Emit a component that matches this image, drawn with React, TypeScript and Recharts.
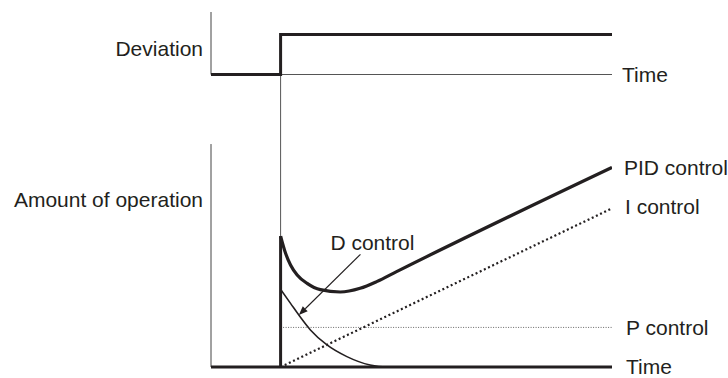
import React from 'react';
import { LineChart, Line, XAxis, YAxis, ReferenceLine, ReferenceDot } from 'recharts';

// Time axis: step of the deviation happens at t = 0
const T_MIN = -2.1;
const T_MAX = 10;

// Deviation (top panel)
const DEV_TIME = [-2.1, 0, 0, 10];
const DEV_VALUE = [0, 0, 1, 1];

// Amount of operation (bottom panel)
const PID_TIME = [0, 0.15, 0.3, 0.5, 0.8, 1.2, 1.8, 2.4, 2.9, 3.5, 10];
const PID_VALUE = [0.784, 0.681, 0.611, 0.551, 0.501, 0.463, 0.449, 0.471, 0.511, 0.571, 1.195];
const PID_STEP_TIME = [0, 0];
const PID_STEP_VALUE = [0, 0.784];
const I_TIME = [0, 10];
const I_VALUE = [0, 0.95];
const P_TIME = [0, 10];
const P_VALUE = [0.237, 0.237];
const D_TIME = [0, 0.3, 0.55, 0.9, 1.4, 2.0, 2.7, 3.2, 10];
const D_VALUE = [0.465, 0.381, 0.311, 0.222, 0.132, 0.062, 0.012, 0, 0];

// axis extents
const DEV_DOMAIN = [-7.3125, 1.5625];
const OP_DOMAIN = [0, 2.1257];
const OP_AXIS_TOP = 1.335;

// labels
const DEVIATION_LABEL = 'Deviation';
const OPERATION_LABEL = 'Amount of operation';
const TIME_LABEL = 'Time';
const PID_LABEL = 'PID control';
const I_LABEL = 'I control';
const P_LABEL = 'P control';
const D_LABEL = 'D control';

// D control label & arrow positions (in data units)
const D_LABEL_POS = { t: 2.77, v: 0.745 };
const D_ARROW = [{ t: 2.41, v: 0.675 }, { t: 0.55, v: 0.311 }];

const zip = (ts: number[], vs: number[]) => ts.map((t, i) => ({ t, v: vs[i] }));

const devData = zip(DEV_TIME, DEV_VALUE);
const pidData = zip(PID_TIME, PID_VALUE);
const pidStepData = zip(PID_STEP_TIME, PID_STEP_VALUE);
const iData = zip(I_TIME, I_VALUE);
const pData = zip(P_TIME, P_VALUE);
const dData = zip(D_TIME, D_VALUE);

const INK = '#231f20';
const FONT = '"Liberation Sans", Arial, Helvetica, sans-serif';
const FS = 21;

const labelStyle = (value: string, position: any, offset = 10) => ({
  value,
  position,
  offset,
  fill: INK,
  fontSize: FS,
  fontFamily: FONT,
});

const Arrow = (props: any) => {
  const { x1, y1, x2, y2 } = props;
  if ([x1, y1, x2, y2].some((n) => n == null || isNaN(n))) return null;
  const ang = Math.atan2(y2 - y1, x2 - x1);
  const len = 9;
  const w = 3.5;
  const bx = x2 - len * Math.cos(ang);
  const by = y2 - len * Math.sin(ang);
  const px = -Math.sin(ang) * w;
  const py = Math.cos(ang) * w;
  return (
    <g>
      <line x1={x1} y1={y1} x2={bx} y2={by} stroke={INK} strokeWidth={1.1} />
      <path d={`M${x2},${y2} L${bx + px},${by + py} L${bx - px},${by - py} Z`} fill={INK} />
    </g>
  );
};

const last = (a: number[]) => a[a.length - 1];

export default function App() {
  return (
    <div style={{ position: 'absolute', left: 0, top: 0, width: 728, height: 378, background: '#fff' }}>
      <LineChart
        width={728}
        height={378}
        margin={{ top: 12, right: 116, bottom: 11, left: 211 }}
        style={{ fontFamily: FONT }}
      >
        <XAxis type="number" dataKey="t" domain={[T_MIN, T_MAX]} hide allowDataOverflow />
        <YAxis yAxisId="dev" type="number" domain={DEV_DOMAIN} hide allowDataOverflow />
        <YAxis yAxisId="op" type="number" domain={OP_DOMAIN} hide allowDataOverflow />

        {/* top panel axes */}
        <ReferenceLine
          yAxisId="dev"
          segment={[{ x: T_MIN, y: 0 }, { x: T_MIN, y: DEV_DOMAIN[1] }]}
          stroke="#444"
          strokeWidth={1}
        />
        <ReferenceLine
          yAxisId="dev"
          y={0}
          stroke="#555"
          strokeWidth={1}
          label={labelStyle(TIME_LABEL, 'right', 10)}
        />
        {/* vertical guide at t = 0 */}
        <ReferenceLine
          yAxisId="dev"
          segment={[{ x: 0, y: 0 }, { x: 0, y: DEV_DOMAIN[0] }]}
          stroke="#555"
          strokeWidth={1}
        />

        {/* bottom panel axes */}
        <ReferenceLine
          yAxisId="op"
          segment={[{ x: T_MIN, y: 0 }, { x: T_MIN, y: OP_AXIS_TOP }]}
          stroke="#444"
          strokeWidth={1}
        />

        <Line yAxisId="op" data={pData} dataKey="v" type="linear" stroke="#666" strokeWidth={1} strokeDasharray="1 1.5" dot={false} activeDot={false} isAnimationActive={false} />
        <Line yAxisId="op" data={iData} dataKey="v" type="linear" stroke={INK} strokeWidth={2.2} strokeDasharray="2 2.6" dot={false} activeDot={false} isAnimationActive={false} />
        <Line yAxisId="op" data={dData} dataKey="v" type="monotone" stroke={INK} strokeWidth={1.6} dot={false} activeDot={false} isAnimationActive={false} />
        <Line yAxisId="op" data={pidStepData} dataKey="v" type="linear" stroke={INK} strokeWidth={3} dot={false} activeDot={false} isAnimationActive={false} />
        <Line yAxisId="op" data={pidData} dataKey="v" type="monotone" stroke={INK} strokeWidth={3.2} dot={false} activeDot={false} isAnimationActive={false} />
        <Line yAxisId="dev" data={devData} dataKey="v" type="linear" stroke={INK} strokeWidth={3} dot={false} activeDot={false} isAnimationActive={false} />

        <ReferenceLine
          yAxisId="op"
          y={0}
          stroke={INK}
          strokeWidth={3}
          label={labelStyle(TIME_LABEL, 'right', 14)}
        />

        <ReferenceLine
          yAxisId="op"
          segment={[{ x: D_ARROW[0].t, y: D_ARROW[0].v }, { x: D_ARROW[1].t, y: D_ARROW[1].v }]}
          shape={Arrow}
        />

        {/* text labels */}
        <ReferenceDot yAxisId="dev" x={T_MIN} y={0.66} r={0} stroke="none" fill="none" ifOverflow="visible" label={labelStyle(DEVIATION_LABEL, 'left', 8)} />
        <ReferenceDot yAxisId="op" x={T_MIN} y={1.0} r={0} stroke="none" fill="none" ifOverflow="visible" label={labelStyle(OPERATION_LABEL, 'left', 8)} />
        <ReferenceDot yAxisId="op" x={last(PID_TIME)} y={last(PID_VALUE)} r={0} stroke="none" fill="none" ifOverflow="visible" label={labelStyle(PID_LABEL, 'right', 12)} />
        <ReferenceDot yAxisId="op" x={last(I_TIME)} y={last(I_VALUE) + 0.01} r={0} stroke="none" fill="none" ifOverflow="visible" label={labelStyle(I_LABEL, 'right', 13)} />
        <ReferenceDot yAxisId="op" x={last(P_TIME)} y={last(P_VALUE)} r={0} stroke="none" fill="none" ifOverflow="visible" label={labelStyle(P_LABEL, 'right', 14)} />
        <ReferenceDot yAxisId="op" x={D_LABEL_POS.t} y={D_LABEL_POS.v} r={0} stroke="none" fill="none" ifOverflow="visible" label={labelStyle(D_LABEL, 'center', 0)} />
      </LineChart>
    </div>
  );
}
